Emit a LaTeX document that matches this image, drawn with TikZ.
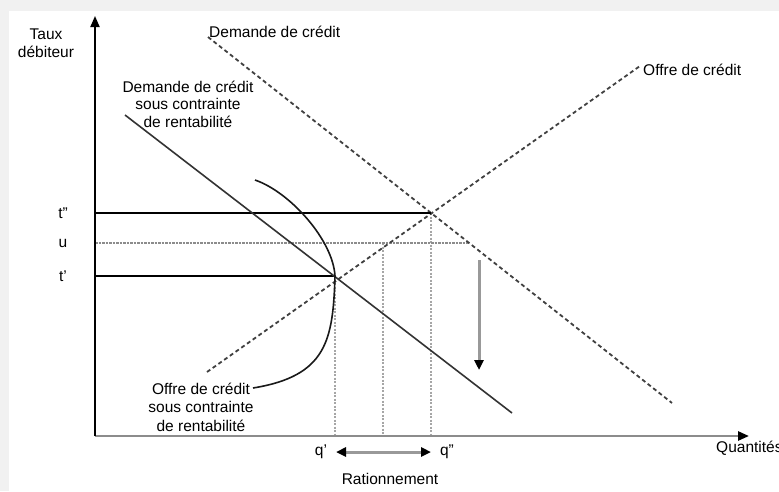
\documentclass[tikz,border=0pt]{standalone}
\usepackage{fontspec}
\setmainfont{Liberation Sans}
\usetikzlibrary{arrows.meta}
\definecolor{bgray}{HTML}{F1F1F1}
\begin{document}
\begin{tikzpicture}[x=1pt,y=-1pt,
  lbl/.style={font=\fontsize{15.5}{17.5}\selectfont, inner sep=0pt, align=center},
  axisy/.style={line width=2pt, black, -{Triangle[length=11pt,width=9pt]}},
  axisx/.style={line width=2.5pt, black!45, -{Triangle[length=11pt,width=9pt,color=black,fill=black]}},
  dashcurve/.style={line width=1.8pt, black!75, dash pattern=on 4pt off 3pt},
  solidline/.style={line width=1.7pt, black},
  constr/.style={line width=1.6pt, black!80},
  fineguide/.style={line width=1.3pt, black!35, dash pattern=on 2pt off 1.5pt},
  uguide/.style={line width=1.1pt, black!45, dash pattern=on 2.5pt off 1pt},
  grayarrow/.style={line width=3pt, black!40, -{Triangle[length=10pt,width=9pt,color=black,fill=black]}},
  grayboth/.style={line width=3pt, black!40, {Triangle[length=10pt,width=9pt,color=black,fill=black]}-{Triangle[length=10pt,width=9pt,color=black,fill=black]}}
]
\fill[bgray] (0,0) rectangle (779,491);
\fill[white] (9,11) rectangle (779,491);
\useasboundingbox (0,0) rectangle (779,491);

% key points
\coordinate (O) at (95,436);
\coordinate (Ytop) at (95,16);
\coordinate (Xend) at (749,436);
\coordinate (Dtop) at (208,37);
\coordinate (Dbot) at (672,403);
\coordinate (Sbot) at (207,372);
\coordinate (Stop) at (640,66);
\coordinate (E) at (431,213);
\coordinate (Cd1) at (125,115);
\coordinate (Cd2) at (512,413);
\coordinate (A) at (335,276);
\coordinate (Yt2) at (95,213);
\coordinate (Yu) at (95,243);
\coordinate (Ut) at (469,243);
\coordinate (Yt1) at (95,276);
\coordinate (Q1) at (335,436);
\coordinate (Um) at (383,243);
\coordinate (Qm) at (383,436);
\coordinate (Q2) at (431,436);
\coordinate (Ctop) at (255,180);
\coordinate (Cend) at (253,388);
\coordinate (dA) at (479,260);
\coordinate (dB) at (479,370);
\coordinate (rA) at (336,452);
\coordinate (rB) at (431,452);

% guides
\draw[fineguide] (A) -- (Q1);
\draw[fineguide] (Um) -- (Qm);
\draw[fineguide] (E) -- (Q2);
\draw[uguide] (Yu) -- (Ut);

% axes
\draw[axisx] (O) -- (Xend);
\draw[axisy] (O) -- (Ytop);

% market curves
\draw[dashcurve] (Dtop) -- (Dbot);
\draw[dashcurve] (Sbot) -- (Stop);

% rate lines
\draw[solidline] (Yt2) -- (E);
\draw[solidline] (Yt1) -- (A);

% constrained demand
\draw[constr] (Cd1) -- (Cd2);

% constrained supply
\draw[constr, black!90] (Ctop) .. controls (290,192) and (333,240) .. (A)
   .. controls (333,340) and (327,376) .. (Cend);

% arrows
\draw[grayarrow] (dA) -- (dB);
\draw[grayboth] (rA) -- (rB);

% labels
\node[lbl] (ylab) at (46,43) {Taux\\débiteur};
\node[lbl, anchor=west] (dlab) at (209,32) {Demande de crédit};
\node[lbl, anchor=west] (slab) at (643,70) {Offre de crédit};
\node[lbl] (cdlab) at (188,104) {Demande de crédit\\sous contrainte\\de rentabilité};
\node[lbl, font=\fontsize{15.5}{18.5}\selectfont] (cslab) at (201,407) {Offre de crédit\\sous contrainte\\de rentabilité};
\node[lbl] (tpp) at (63,213) {t"};
\node[lbl] (u) at (63,243) {u};
\node[lbl] (tp) at (63,276) {t'};
\node[lbl] (qp) at (321,452) {q'};
\node[lbl] (qpp) at (447,452) {q"};
\node[lbl] (rat) at (390,479) {Rationnement};
\node[lbl, anchor=west] (qlab) at (716,448) {Quantités};
\end{tikzpicture}
\end{document}
